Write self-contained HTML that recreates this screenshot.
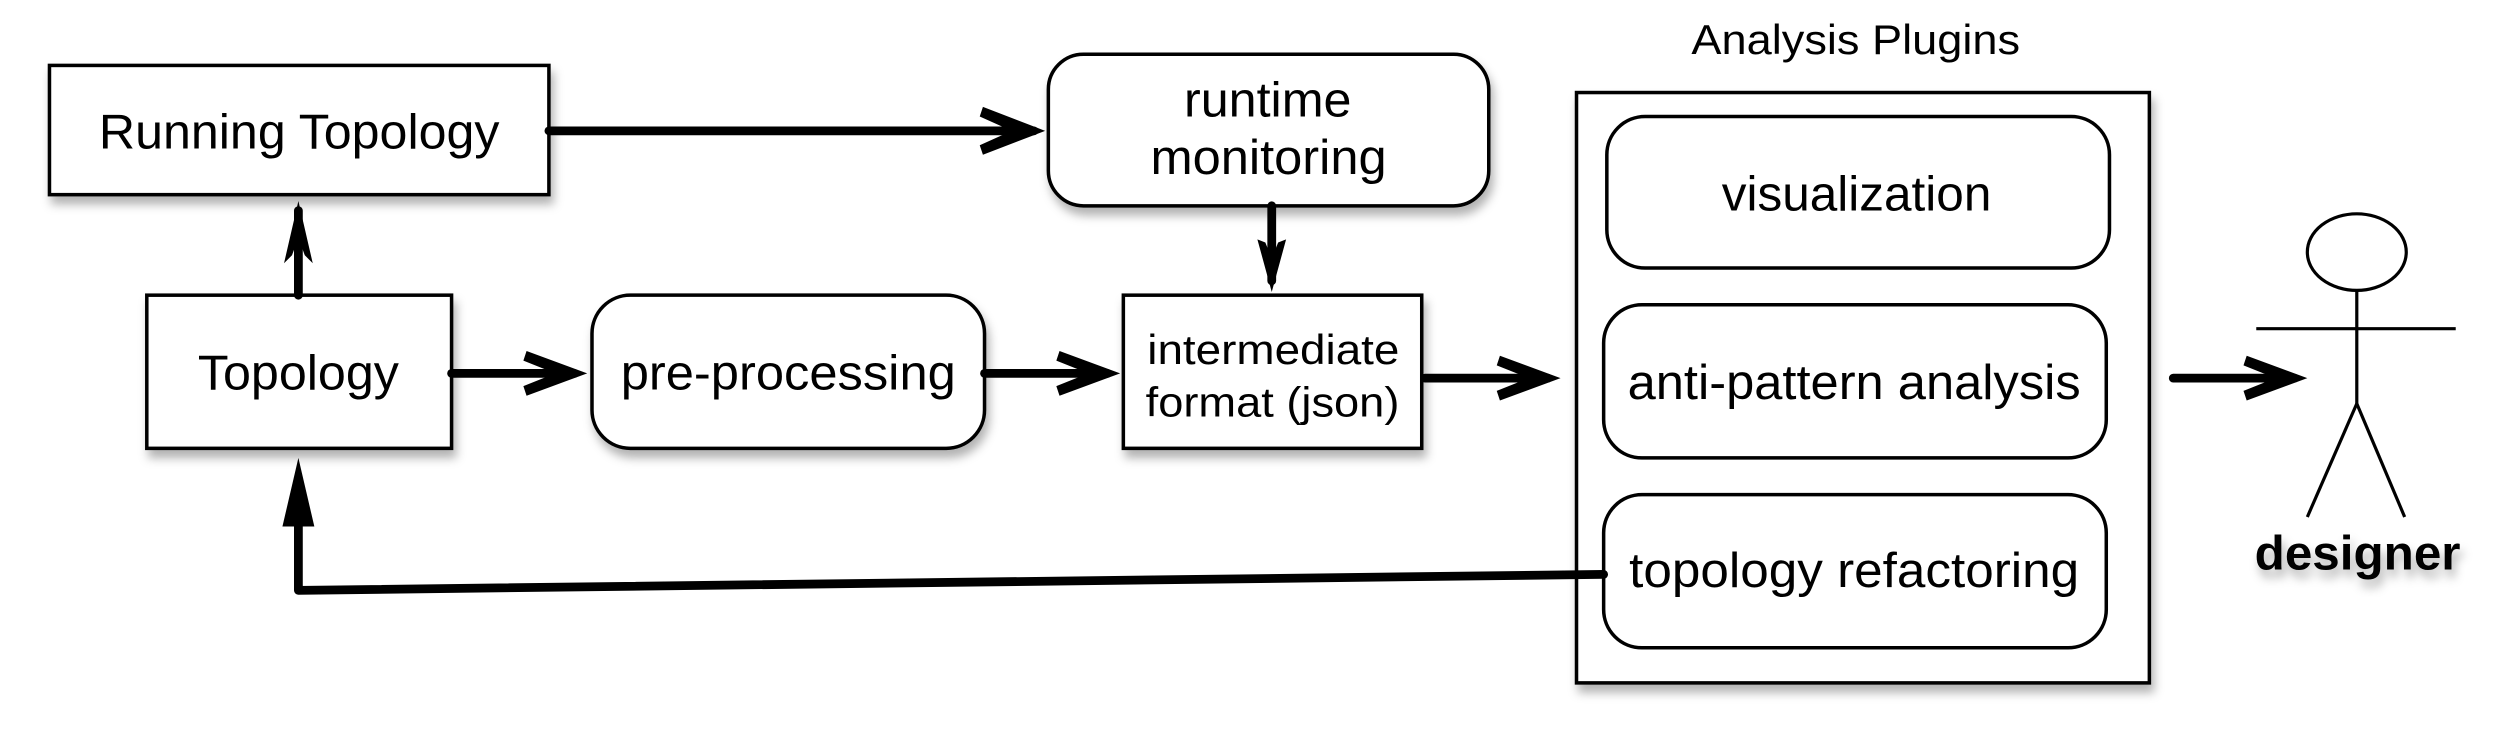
<!DOCTYPE html>
<html><head><meta charset="utf-8"><style>
html,body{margin:0;padding:0;background:#fff;}
svg{display:block;}
text{font-family:"Liberation Sans",sans-serif;fill:#000;}
</style></head><body>
<svg width="2502" height="744" viewBox="0 0 1568 466.3" preserveAspectRatio="none" xmlns="http://www.w3.org/2000/svg">
<defs>
<filter id="sh" x="-10%" y="-10%" width="130%" height="140%">
<feDropShadow dx="2" dy="5" stdDeviation="3" flood-color="#000" flood-opacity="0.3"/>
</filter>
</defs>
<g fill="#fff" stroke="#000" stroke-width="2.2" filter="url(#sh)">
<rect x="31" y="41" width="313" height="81"/>
<rect x="657" y="34" width="276" height="95" rx="22"/>
<rect x="92" y="185" width="191" height="96"/>
<rect x="371" y="185" width="246" height="96" rx="24"/>
<rect x="704" y="185" width="187" height="96"/>
<rect x="988" y="58" width="359" height="370"/>
<rect x="1007" y="73" width="315" height="95" rx="24"/>
<rect x="1005" y="191" width="315" height="96" rx="24"/>
<rect x="1005" y="310" width="315" height="96" rx="24"/>
</g>
<g font-size="31" lengthAdjust="spacingAndGlyphs">
<text x="62" y="93" textLength="251" lengthAdjust="spacingAndGlyphs">Running Topology</text>
<text x="742" y="73" textLength="105" lengthAdjust="spacingAndGlyphs">runtime</text>
<text x="721" y="109" textLength="148" lengthAdjust="spacingAndGlyphs">monitoring</text>
<text x="124" y="244" textLength="126" lengthAdjust="spacingAndGlyphs">Topology</text>
<text x="389" y="244" textLength="210" lengthAdjust="spacingAndGlyphs">pre-processing</text>
<text x="1079" y="132" textLength="169" lengthAdjust="spacingAndGlyphs">visualization</text>
<text x="1020" y="250" textLength="284" lengthAdjust="spacingAndGlyphs">anti-pattern analysis</text>
<text x="1021" y="368" textLength="282" lengthAdjust="spacingAndGlyphs">topology refactoring</text>
</g>
<g font-size="26">
<text x="719" y="228" textLength="158" lengthAdjust="spacingAndGlyphs">intermediate</text>
<text x="718" y="261" textLength="159" lengthAdjust="spacingAndGlyphs">format (json)</text>
<text x="1060" y="34" textLength="206" lengthAdjust="spacingAndGlyphs">Analysis Plugins</text>
</g>
<text x="1413" y="357" font-size="30" font-weight="bold" textLength="129" lengthAdjust="spacingAndGlyphs" filter="url(#sh)">designer</text>
<g stroke="#000" stroke-width="5.5" fill="none" stroke-linecap="round">
<line x1="344" y1="82" x2="648" y2="82"/>
<line x1="187" y1="185" x2="187" y2="132"/>
<line x1="283" y1="234" x2="360" y2="234"/>
<line x1="617" y1="234" x2="694" y2="234"/>
<line x1="797" y1="129" x2="797" y2="176"/>
<line x1="893" y1="237" x2="970" y2="237"/>
<line x1="1362" y1="237" x2="1438" y2="237"/>
<polyline points="1005,360 187,370 187,320" stroke-linejoin="round"/>
</g>
<g fill="#000">
<polygon points="655,82 616,67 614,73 634,82 614,91 616,97"/>
<polygon points="187,126 178,165 183,160 187,149 191,160 196,165"/>
<polygon points="368,234 330,220 328,226 348,234 328,242 330,248"/>
<polygon points="702,234 664,220 662,226 682,234 662,242 664,248"/>
<polygon points="797,183 788,150 793,152 797,162 801,152 806,150"/>
<polygon points="978,237 940,223 938,229 958,237 938,245 940,251"/>
<polygon points="1446,237 1408,223 1406,229 1426,237 1406,245 1408,251"/>
<polygon points="187,287 177,330 197,330"/>
</g>
<g stroke="#000" stroke-width="2" fill="none">
<ellipse cx="1477" cy="158" rx="31" ry="24" fill="#fff"/>
<line x1="1477" y1="182" x2="1477" y2="253"/>
<line x1="1414" y1="206" x2="1539" y2="206"/>
<line x1="1477" y1="253" x2="1446" y2="324"/>
<line x1="1477" y1="253" x2="1507" y2="324"/>
</g>
</svg>
</body></html>
